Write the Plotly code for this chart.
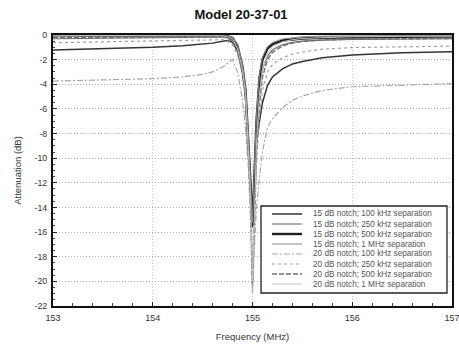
import plotly.graph_objects as go

# ---- data ----
FREQ = [153.0, 153.5, 154.0, 154.3, 154.5, 154.6, 154.7, 154.75, 154.8, 154.85,
        154.9, 154.93, 154.96, 154.98, 155.0, 155.02, 155.04, 155.07, 155.1, 155.15,
        155.2, 155.3, 155.4, 155.5, 155.7, 156.0, 156.5, 157.0]

NAMES = [
    "15 dB notch; 100 kHz separation",
    "15 dB notch; 250 kHz separation",
    "15 dB notch; 500 kHz separation",
    "15 dB notch; 1 MHz separation",
    "20 dB notch; 100 kHz separation",
    "20 dB notch; 250 kHz separation",
    "20 dB notch; 500 kHz separation",
    "20 dB notch; 1 MHz separation",
]

N15_100 = [-1.22, -1.12, -1.0, -0.88, -0.75, -0.66, -0.5, -0.45, -0.6, -1.3,
           -3.1, -5.0, -9.0, -12.5, -15.6, -12.0, -8.8, -7.0, -5.5, -4.1,
           -3.4, -2.75, -2.35, -2.15, -1.85, -1.62, -1.45, -1.35]
N15_250 = [-0.3, -0.28, -0.25, -0.22, -0.2, -0.18, -0.16, -0.2, -0.4, -1.1,
           -2.8, -4.7, -8.7, -12.2, -15.4, -11.5, -8.0, -4.5, -2.8, -1.7,
           -1.2, -0.8, -0.6, -0.5, -0.42, -0.37, -0.33, -0.3]
N15_500 = [-0.03, -0.03, -0.03, -0.03, -0.03, -0.04, -0.06, -0.1, -0.25, -0.9,
           -2.6, -4.5, -8.5, -12.0, -15.5, -11.0, -7.0, -3.5, -2.0, -1.1,
           -0.75, -0.45, -0.35, -0.28, -0.22, -0.18, -0.15, -0.13]
N15_1M = [0.0, 0.0, 0.0, 0.0, -0.01, -0.02, -0.04, -0.08, -0.2, -0.8,
          -2.4, -4.3, -8.2, -11.8, -15.2, -10.5, -6.5, -3.2, -1.8, -0.95,
          -0.6, -0.32, -0.2, -0.14, -0.09, -0.06, -0.04, -0.03]
N20_100 = [-3.74, -3.65, -3.55, -3.4, -3.2, -3.0, -2.6, -2.3, -2.0, -3.0,
           -5.3, -7.5, -11.0, -15.0, -21.0, -17.0, -14.0, -11.5, -9.5, -7.5,
           -6.8, -5.9, -5.3, -4.95, -4.5, -4.2, -4.05, -3.95]
N20_250 = [-0.63, -0.55, -0.48, -0.42, -0.38, -0.36, -0.38, -0.5, -0.8, -1.6,
           -3.2, -5.3, -9.5, -13.5, -20.5, -15.0, -10.5, -6.5, -4.5, -3.0,
           -2.4, -1.85, -1.55, -1.38, -1.15, -1.02, -0.93, -0.9]
N20_500 = [-0.2, -0.18, -0.15, -0.13, -0.12, -0.12, -0.15, -0.25, -0.5, -1.3,
           -3.0, -5.0, -9.2, -13.0, -20.2, -14.5, -9.5, -5.5, -3.4, -2.0,
           -1.4, -0.9, -0.65, -0.52, -0.4, -0.33, -0.3, -0.28]
N20_1M = [-0.02, -0.02, -0.02, -0.02, -0.03, -0.04, -0.08, -0.14, -0.3, -1.1,
          -2.8, -4.8, -9.0, -12.8, -20.0, -14.0, -8.8, -4.8, -2.8, -1.5,
          -0.95, -0.55, -0.38, -0.28, -0.2, -0.14, -0.11, -0.1]

SERIES = [N15_100, N15_250, N15_500, N15_1M, N20_100, N20_250, N20_500, N20_1M]

X_TICKS = [153, 154, 155, 156, 157]
Y_TICKS = [0, -2, -4, -6, -8, -10, -12, -14, -16, -18, -20, -22]

# ---- styles ----
COLORS = ["#333333", "#6a6a6a", "#1e1e1e", "#8a8a8a", "#a8a8a8", "#a0a0a0", "#707070", "#c4c4c4"]
WIDTHS = [1.5, 1.1, 2.4, 1.0, 1.2, 1.2, 1.5, 1.0]
DASHES = ["solid", "solid", "solid", "solid", "6px,2px,2px,2px", "3px,3px", "5px,2px", "solid"]

FONT = "Liberation Sans, Arial, sans-serif"
TXT = "#333333"

fig = go.Figure()
for name, vals, c, w, d in zip(NAMES, SERIES, COLORS, WIDTHS, DASHES):
    fig.add_trace(go.Scatter(x=FREQ, y=vals, mode="lines", name=name,
                             line=dict(color=c, width=w, dash=d),
                             showlegend=False))

# plot area geometry (pixels)
W, H = 459, 348
ML, MR, MT, MB = 53, 7, 35, 42
PW, PH = W - ML - MR, H - MT - MB

def px_x(x):
    return (x - ML) / PW

def px_y(y):
    return (H - MB - y) / PH

# manual legend (compact like the reference)
shapes = [dict(type="rect", xref="paper", yref="paper",
               x0=px_x(261), x1=px_x(447), y0=px_y(293), y1=px_y(206),
               line=dict(color="#222222", width=1.3), fillcolor="white", layer="above")]
annotations = []
for i, (name, c, w, d) in enumerate(zip(NAMES, COLORS, WIDTHS, DASHES)):
    yy = px_y(214 + 10 * i)
    shapes.append(dict(type="line", xref="paper", yref="paper",
                       x0=px_x(272), x1=px_x(302), y0=yy, y1=yy,
                       line=dict(color=c, width=w, dash=d), layer="above"))
    annotations.append(dict(xref="paper", yref="paper", x=px_x(311), y=yy,
                            text=name, showarrow=False, xanchor="left", yanchor="middle",
                            font=dict(family=FONT, size=8.2, color="#555555")))

fig.update_layout(
    template="none",
    width=W, height=H,
    margin=dict(l=ML, r=MR, t=MT, b=MB, pad=0),
    paper_bgcolor="white", plot_bgcolor="white",
    title=dict(text="<b>Model 20-37-01</b>", x=241 / W, xref="container", xanchor="center",
               y=1 - 14 / H, yref="container", yanchor="middle",
               font=dict(family=FONT, size=13, color="#111111")),
    font=dict(family=FONT, size=9, color=TXT),
    shapes=shapes, annotations=annotations,
    showlegend=False,
)
fig.update_xaxes(range=[153, 157], tickvals=X_TICKS, ticktext=[str(v) for v in X_TICKS],
                 ticks="inside", ticklen=4, tickwidth=1, tickcolor="#222",
                 ticklabelstandoff=2, ticklabeloverflow="allow",
                 minor=dict(dtick=0.2, ticks="inside", ticklen=3, tickcolor="#444", showgrid=False),
                 showline=True, linecolor="#111", linewidth=2, mirror=True,
                 showgrid=True, gridcolor="#c8c8c8", griddash="1px,2px", gridwidth=1,
                 zeroline=False,
                 title=dict(text="Frequency (MHz)", standoff=12,
                            font=dict(family=FONT, size=9.5, color=TXT)),
                 tickfont=dict(family=FONT, size=9, color=TXT))
fig.update_yaxes(range=[-22, 0], tickvals=Y_TICKS, ticktext=[str(v) for v in Y_TICKS],
                 ticks="inside", ticklen=4, tickwidth=1, tickcolor="#222",
                 ticklabelstandoff=2, ticklabeloverflow="allow",
                 minor=dict(dtick=0.5, ticks="inside", ticklen=2, tickcolor="#444", showgrid=False),
                 showline=True, linecolor="#111", linewidth=2, mirror=True,
                 showgrid=True, gridcolor="#a8a8a8", griddash="1px,2px", gridwidth=1,
                 zeroline=False,
                 title=dict(text="Attenuation (dB)", standoff=11,
                            font=dict(family=FONT, size=9.5, color=TXT)),
                 tickfont=dict(family=FONT, size=8.8, color=TXT))

fig.write_html("out.html")
